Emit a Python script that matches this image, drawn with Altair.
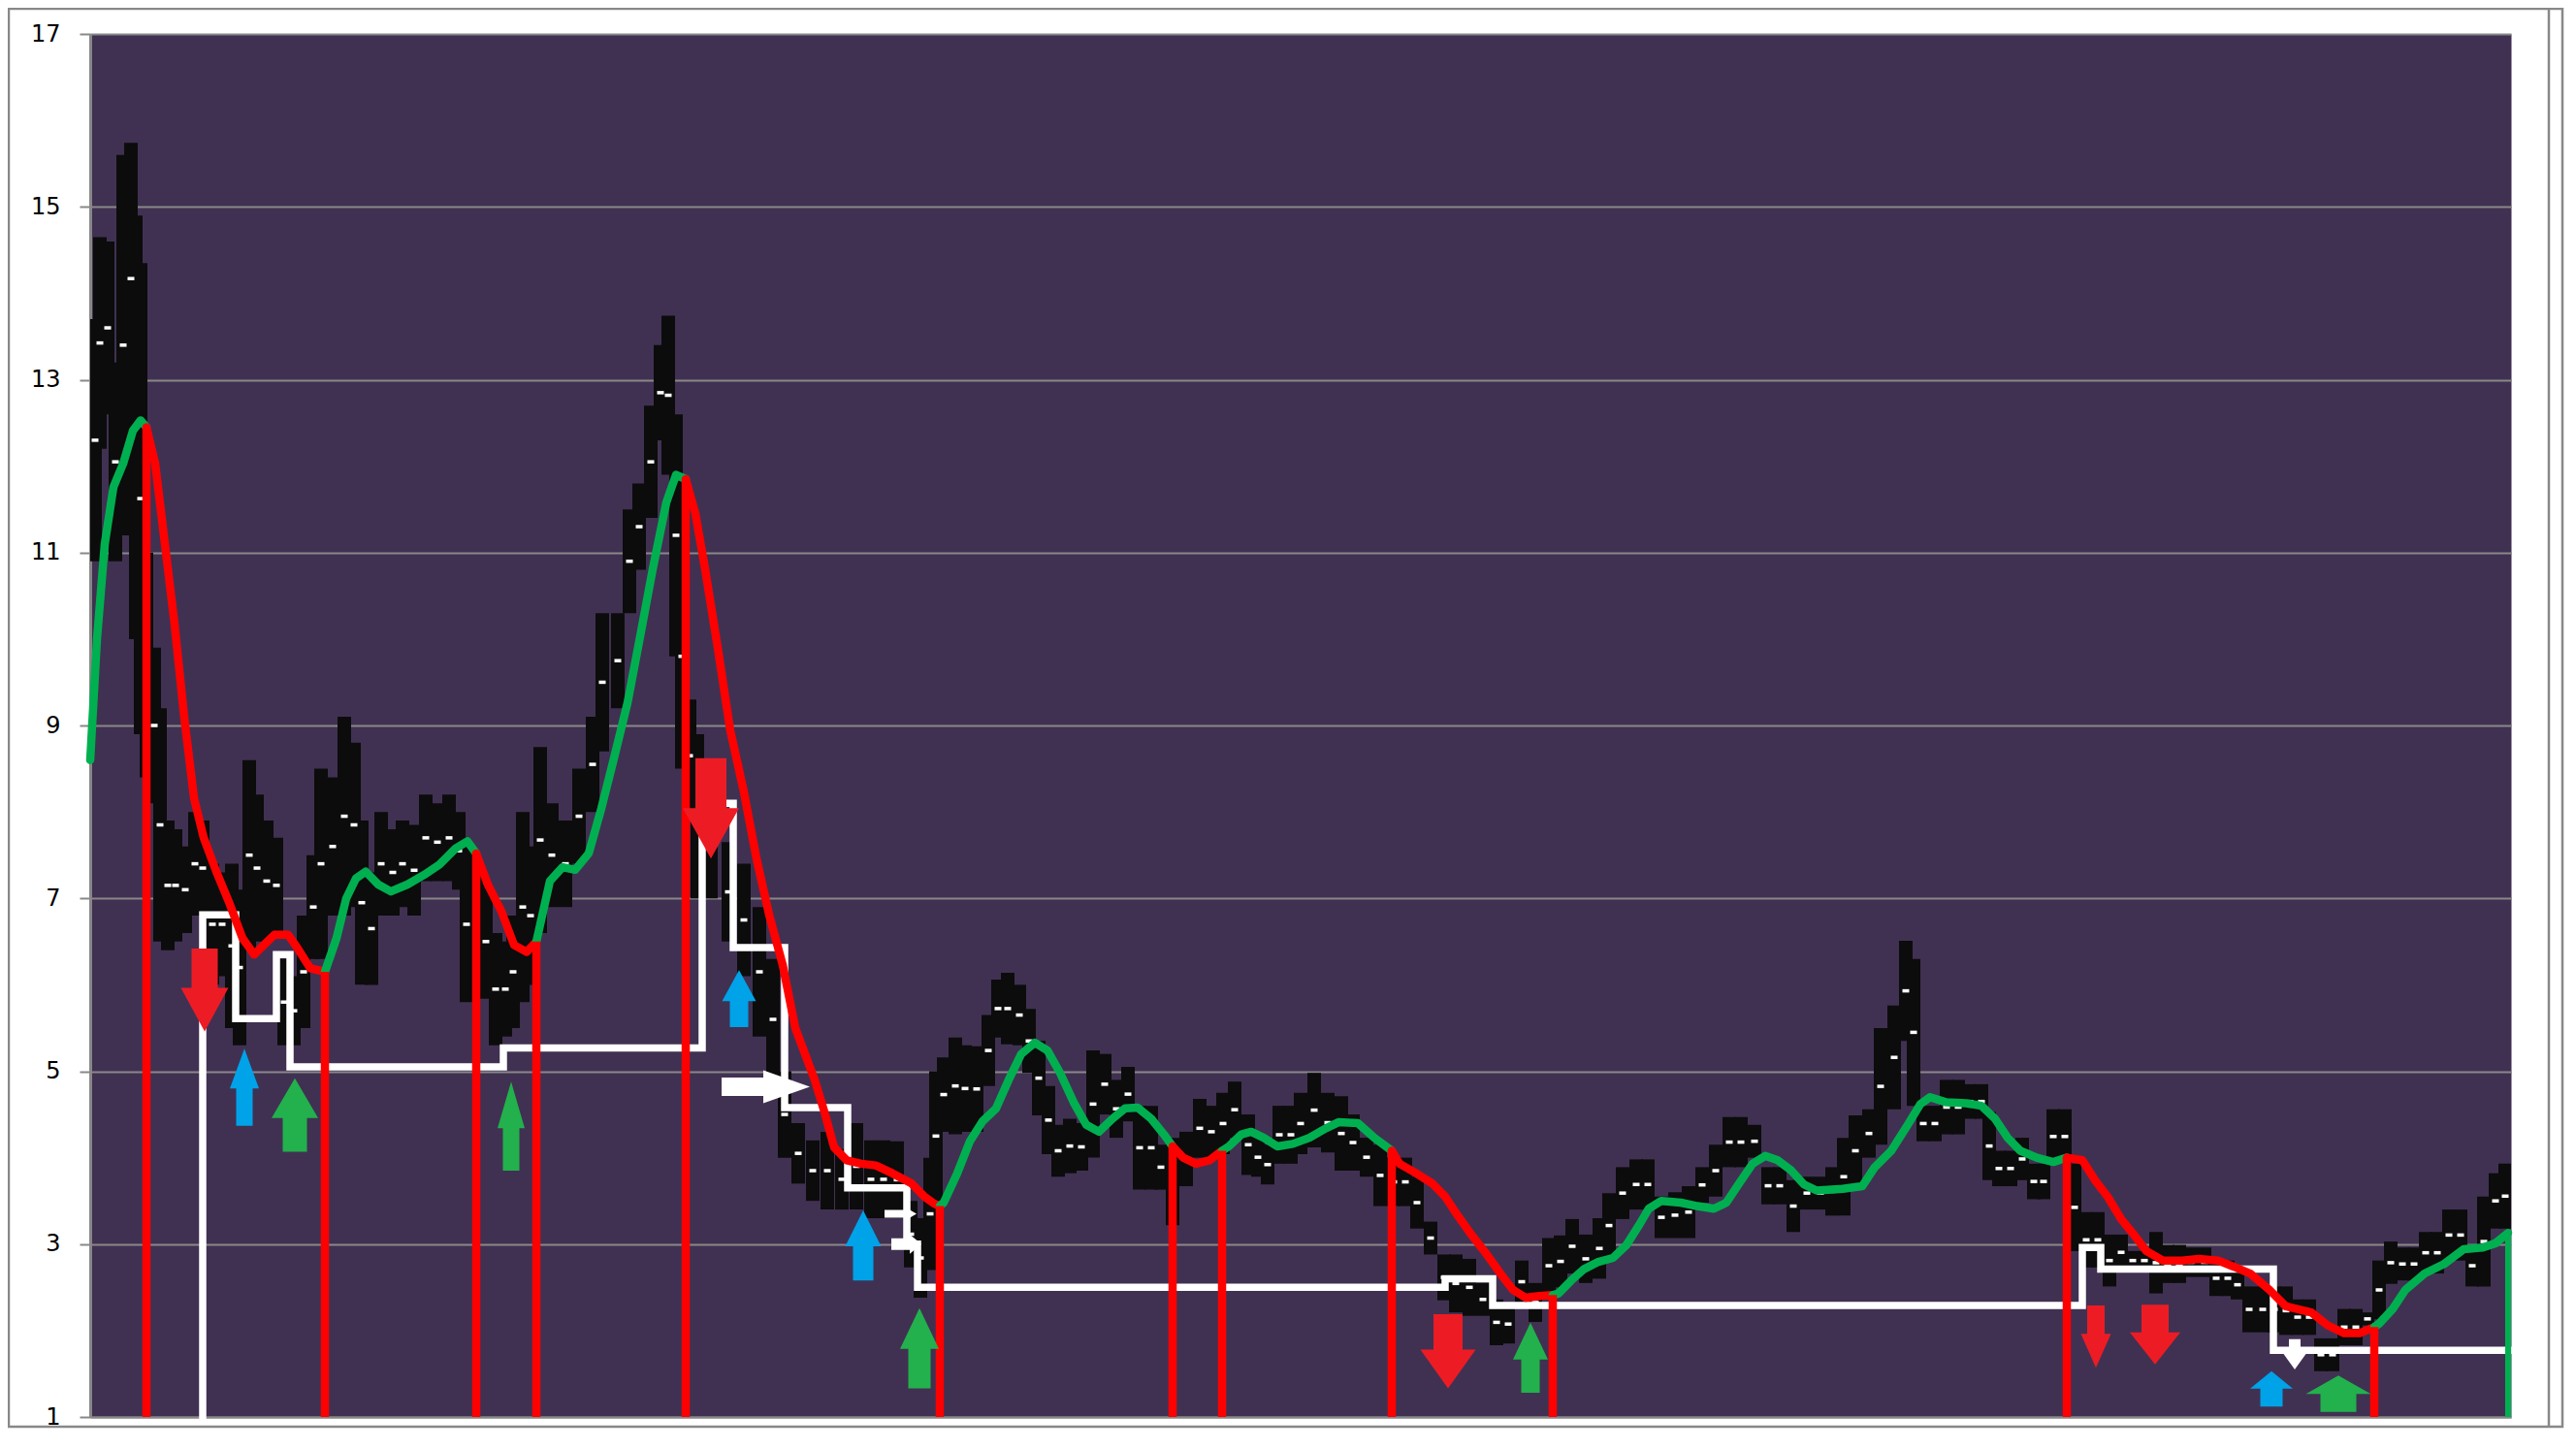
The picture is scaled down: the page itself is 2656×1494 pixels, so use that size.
import altair as alt
import pandas as pd

# ---------------- data ----------------
# price band: column position, high and low of each column
band_t = [5, 10, 18, 26, 34, 42, 47, 52, 58, 66,
          72, 80, 88, 98, 108, 116, 126, 136, 146, 154,
          164, 172, 182, 192, 200, 210, 220, 230, 238, 250,
          262, 272, 280, 290, 300, 312, 322, 334, 346, 358,
          370, 380, 388, 398, 408, 418, 428, 436, 446, 454,
          464, 476, 490, 504, 518, 528, 544, 556, 566, 578,
          588, 596, 604, 610, 618, 626, 640, 658, 674, 690,
          704, 716, 730, 745, 760, 775, 790, 805, 818, 832,
          846, 856, 866, 872, 880, 892, 902, 914, 926, 936,
          946, 958, 968, 978, 988, 998, 1010, 1022, 1034, 1046,
          1058, 1070, 1082, 1094, 1104, 1116, 1130, 1144, 1156, 1168,
          1180, 1194, 1204, 1214, 1226, 1238, 1248, 1262, 1276, 1290,
          1302, 1316, 1330, 1344, 1356, 1368, 1382, 1396, 1408, 1422,
          1436, 1450, 1462, 1476, 1490, 1504, 1516, 1528, 1542, 1556,
          1566, 1580, 1594, 1606, 1620, 1634, 1648, 1662, 1676, 1690,
          1702, 1716, 1730, 1742, 1756, 1770, 1784, 1796, 1808, 1820,
          1834, 1846, 1860, 1872, 1880, 1890, 1902, 1914, 1926, 1938,
          1950, 1958, 1968, 1980, 1992, 2004, 2014, 2024, 2036, 2046,
          2058, 2070, 2082, 2094, 2106, 2118, 2130, 2142, 2154, 2166,
          2180, 2192, 2204, 2214, 2226, 2240, 2252, 2264, 2276, 2288,
          2300, 2312, 2324, 2336, 2348, 2360, 2372, 2384, 2396, 2408,
          2420, 2432, 2444, 2456, 2468, 2480, 2490]
band_hi = [13.7, 14.65, 14.6, 13.2, 15.6, 15.74, 14.9, 14.35, 11.0, 9.9,
           9.2, 7.9, 7.8, 7.6, 8.0, 7.9, 7.4, 7.3, 7.4, 7.1,
           8.6, 8.2, 7.9, 7.7, 6.3, 6.1, 6.8, 7.5, 8.5, 8.4,
           9.1, 8.8, 7.9, 7.3, 8.0, 7.8, 7.9, 7.85, 8.2, 8.1,
           8.2, 8.0, 7.6, 7.4, 7.16, 6.6, 6.5, 6.8, 8.0, 7.6,
           8.75, 8.1, 7.9, 8.5, 9.1, 10.3, 10.3, 11.5, 11.8, 12.7,
           13.4, 13.74, 12.6, 11.1, 9.3, 8.9, 8.2, 7.65, 7.4, 6.9,
           6.3, 5.0, 4.4, 4.2, 4.3, 4.1, 4.4, 4.2, 4.2, 4.19,
           3.5, 3.3, 4.0, 5.0, 5.16, 5.39, 5.3, 5.29, 5.65, 6.06,
           6.14, 6.0, 5.72, 5.35, 4.83, 4.38, 4.45, 4.4, 5.24, 5.2,
           4.9, 5.05, 4.6, 4.6, 4.15, 4.23, 4.3, 4.68, 4.6, 4.75,
           4.88, 4.5, 4.23, 4.15, 4.6, 4.6, 4.75, 4.98, 4.75, 4.71,
           4.5, 4.23, 4.15, 4.0, 4.0, 3.78, 3.26, 2.88, 2.88, 2.83,
           2.55, 2.36, 2.3, 2.81, 2.55, 3.07, 3.1, 3.29, 3.11, 3.3,
           3.59, 3.89, 3.98, 3.98, 3.55, 3.6, 3.67, 3.89, 4.15, 4.47,
           4.47, 4.38, 3.89, 3.89, 3.74, 3.78, 3.78, 3.89, 4.23, 4.49,
           4.56, 5.5, 5.76, 6.51, 6.3, 4.6, 4.6, 4.9, 4.9, 4.85,
           4.85, 4.53, 4.08, 4.08, 4.23, 3.93, 3.93, 4.56, 4.56, 3.93,
           3.37, 3.37, 3.11, 3.11, 2.92, 2.92, 3.14, 2.99, 2.99, 2.96,
           2.96, 2.81, 2.81, 2.7, 2.51, 2.51, 2.51, 2.51, 2.36, 2.36,
           1.91, 1.91, 2.25, 2.25, 2.21, 2.81, 3.03, 2.96, 2.96, 3.14,
           3.14, 3.4, 3.4, 2.99, 3.55, 3.82, 3.93]
band_lo = [10.9, 12.2, 12.6, 10.9, 11.2, 12.6, 10.0, 8.9, 8.4, 8.1,
           6.5, 6.4, 6.5, 6.6, 6.8, 6.8, 6.0, 6.1, 5.5, 5.3,
           6.4, 6.5, 6.5, 6.6, 5.3, 5.3, 5.5, 6.3, 6.3, 6.8,
           6.8, 6.9, 6.0, 6.0, 6.8, 6.8, 6.9, 6.8, 7.2, 7.2,
           7.2, 7.1, 5.8, 5.9, 5.84, 5.3, 5.4, 5.5, 5.8, 6.0,
           6.6, 6.9, 6.9, 7.4, 8.0, 8.7, 9.2, 10.3, 10.8, 11.4,
           12.3, 11.9, 9.8, 8.5, 8.0, 7.0, 7.0, 6.5, 6.1, 5.4,
           4.9, 4.0, 3.7, 3.5, 3.4, 3.4, 3.4, 3.3, 3.3, 3.3,
           2.73, 2.38, 2.7, 3.5, 4.3, 4.27, 4.3, 4.3, 4.83, 5.39,
           5.31, 5.3, 4.98, 4.49, 4.04, 3.78, 3.82, 3.85, 4.0, 4.5,
           4.23, 4.42, 3.63, 3.63, 3.63, 3.22, 3.67, 4.0, 4.0, 4.04,
           4.23, 3.8, 3.78, 3.69, 3.93, 3.93, 4.04, 4.12, 4.06, 3.85,
           3.85, 3.78, 3.44, 3.44, 3.44, 3.18, 2.88, 2.35, 2.21, 2.17,
           2.17, 1.83, 1.85, 2.32, 2.1, 2.43, 2.5, 2.66, 2.55, 2.6,
           2.84, 3.29, 3.4, 3.4, 3.07, 3.07, 3.07, 3.48, 3.55, 3.89,
           3.89, 4.0, 3.46, 3.46, 3.14, 3.4, 3.4, 3.33, 3.33, 3.67,
           4.0, 4.15, 4.56, 5.35, 4.6, 4.19, 4.19, 4.27, 4.27, 4.45,
           4.45, 3.74, 3.67, 3.67, 3.74, 3.52, 3.52, 3.93, 3.93, 2.92,
           2.73, 2.73, 2.51, 2.7, 2.7, 2.7, 2.43, 2.55, 2.55, 2.62,
           2.62, 2.4, 2.4, 2.36, 1.98, 1.98, 1.98, 1.95, 1.95, 1.95,
           1.53, 1.53, 1.83, 1.83, 2.06, 2.13, 2.54, 2.58, 2.58, 2.66,
           2.66, 2.81, 2.81, 2.51, 2.51, 3.18, 3.18]

# smoothed trend line
trend_t = [0, 7, 15, 24, 34, 44, 52, 58,
           67, 77, 87, 97, 107, 117, 130, 144, 157, 169, 179, 190, 204, 214, 227, 242,
           254, 264, 274, 284, 297, 310, 327, 344, 360, 377, 389, 398,
           410, 424, 437, 450, 460,
           474, 487, 500, 514, 527, 540, 554, 567, 580, 594, 604, 614,
           624, 634, 647, 660, 674, 687, 700, 714, 727, 737, 747, 757, 767, 780, 795, 810, 827, 847, 860, 870, 876,
           880, 894, 907, 920, 934, 947, 960, 974, 987, 1000, 1014, 1027, 1040, 1054, 1067, 1080, 1094, 1107, 1116,
           1127, 1140, 1154, 1167,
           1174, 1187, 1197, 1210, 1224, 1240, 1257, 1274, 1287, 1307, 1324, 1342,
           1350, 1367, 1384, 1397, 1410, 1424, 1440, 1454, 1467, 1480, 1494, 1508,
           1514, 1527, 1540, 1554, 1570, 1584, 1597, 1607, 1620, 1640, 1657, 1674, 1687, 1700, 1714, 1727,
           1740, 1754, 1767, 1780, 1807, 1827, 1840, 1857, 1874, 1887, 1897, 1914, 1934, 1950, 1964, 1977,
           1990, 2007, 2024, 2038,
           2054, 2067, 2080, 2094, 2107, 2120, 2137, 2157, 2174, 2194, 2210, 2227, 2247, 2264, 2290, 2307,
           2324, 2340, 2355,
           2360, 2374, 2387, 2407, 2427, 2447, 2467, 2480, 2493]
trend_v = [8.6, 10.0, 11.1, 11.76, 12.03, 12.41, 12.53, 12.45,
           12.03, 11.1, 10.17, 9.09, 8.16, 7.7, 7.31, 6.93, 6.54, 6.35, 6.46, 6.58, 6.58, 6.42, 6.19, 6.15,
           6.54, 7.0, 7.23, 7.31, 7.16, 7.08, 7.16, 7.27, 7.39, 7.58, 7.66, 7.52,
           7.16, 6.85, 6.46, 6.38, 6.5,
           7.2, 7.36, 7.33, 7.52, 8.04, 8.62, 9.26, 10.03, 10.81, 11.58, 11.9, 11.85,
           11.45, 10.81, 9.9, 8.94, 8.23, 7.46, 6.81, 6.23, 5.5, 5.2, 4.9, 4.53, 4.12, 3.97, 3.93, 3.91, 3.82, 3.7, 3.55, 3.47, 3.44,
           3.48, 3.82, 4.19, 4.42, 4.57, 4.9, 5.2, 5.33, 5.24, 4.98, 4.64, 4.38, 4.3, 4.45, 4.57, 4.58, 4.45, 4.27, 4.13,
           4.0, 3.93, 3.97, 4.08,
           4.13, 4.27, 4.3, 4.23, 4.13, 4.16, 4.23, 4.34, 4.41, 4.4, 4.23, 4.08,
           3.93, 3.82, 3.7, 3.55, 3.33, 3.11, 2.88, 2.66, 2.47, 2.38, 2.4, 2.41,
           2.43, 2.58, 2.71, 2.79, 2.84, 2.99, 3.22, 3.41, 3.5, 3.48, 3.44, 3.41, 3.48, 3.7, 3.93, 4.02,
           3.97, 3.85, 3.69, 3.62, 3.64, 3.67, 3.89, 4.08, 4.38, 4.62, 4.7, 4.64, 4.63, 4.6, 4.45, 4.23,
           4.08, 4.0, 3.95, 4.0,
           3.97, 3.74, 3.55, 3.29, 3.11, 2.92, 2.81, 2.81, 2.83, 2.81, 2.74, 2.66, 2.47, 2.28, 2.21, 2.06,
           1.97, 1.97, 2.04,
           2.08, 2.25, 2.47, 2.66, 2.77, 2.94, 2.96, 3.01, 3.13]

# turning points of the trend (red signal lines); trend alternates up / down
signal_t = [58, 242, 398, 460, 614, 876, 1116, 1167, 1342, 1508, 2038, 2355]
end_t = 2493

# white stop line (step-after)
stop_t = [116, 116, 150, 192, 206, 426, 631, 663, 716, 781, 842, 853,
          1397, 1446, 2054, 2073, 2251, 2493]
stop_v = [1.0, 6.81, 5.61, 6.35, 5.05, 5.27, 8.1, 6.43, 4.58, 3.65, 3.0, 2.5,
          2.6, 2.29, 2.96, 2.71, 1.77, 1.77]

# vertical arrows: position, tail value, tip value, kind
varrow_t = [118, 159, 211, 434, 640, 669, 797, 855, 1400, 1485, 2068, 2129, 2249, 2318, 2273]
varrow_tail = [6.42, 4.37, 4.07, 3.85, 8.62, 5.51, 2.58, 1.33, 2.19, 1.28, 2.29, 2.3, 1.12, 1.06, 1.9]
varrow_tip = [5.46, 5.26, 4.92, 4.88, 7.46, 6.17, 3.39, 2.26, 1.33, 2.09, 1.57, 1.61, 1.53, 1.48, 1.55]
varrow_kind = ["sell", "stop", "buy", "buy", "sell", "stop", "stop", "buy", "sell", "buy",
               "sell", "sell", "stop", "buy", "move"]
# horizontal (right-pointing) arrows: level, tail position, tip position
harrow_v = [4.82, 3.35, 3.0]
harrow_tail = [651, 819, 826]
harrow_tip = [742, 852, 857]

# ---------------- styles ----------------
X_MAX = 2496
Y_MIN, Y_MAX = 1, 17
W, H = 2496, 1426
PPU_Y = H / (Y_MAX - Y_MIN)
PPU_X = W / X_MAX
PURPLE = "#403152"
GRID = "#888888"
kind_color = {"sell": "#ED1C24", "stop": "#00A2E8", "buy": "#22B14C", "move": "#FFFFFF"}
# arrow shape styles in px: (head width, shaft width, head length)
varrow_style = [(49, 27, 45), (30, 17, 41), (48, 25, 41), (28, 17, 48), (58, 32, 52),
                (35, 19, 32), (37, 21, 37), (40, 23, 42), (57, 30, 40), (36, 19, 38),
                (31, 18, 35), (52, 28, 33), (44, 23, 18), (67, 37, 19), (23, 12, 16)]
harrow_style = [(34, 19, 48), (14, 8, 12), (20, 12, 12)]


def arrow_path(length, width, shaft, head, direction):
    w = width / length
    sw = shaft / length
    hb = -1 + 2 * head / length
    pts = [(0, -1), (w, hb), (sw, hb), (sw, 1), (-sw, 1), (-sw, hb), (-w, hb)]
    if direction == "down":
        pts = [(x, -y) for x, y in pts]
    elif direction == "right":
        pts = [(-y, x) for x, y in pts]
    return "M" + "L".join(f"{x:.4f},{y:.4f}" for x, y in pts) + "Z"


# ---------------- tables ----------------
band_df = pd.DataFrame({"t": band_t, "hi": band_hi, "lo": band_lo})

rows = []
bounds = [0] + signal_t + [10**6]
for k in range(len(bounds) - 1):
    for i, (t, v) in enumerate(zip(trend_t, trend_v)):
        if bounds[k] <= t <= bounds[k + 1]:
            rows.append({"seg": k, "t": t, "v": v, "i": i,
                         "dir": "up" if k % 2 == 0 else "down"})
trend_df = pd.DataFrame(rows)

tv = dict(zip(trend_t, trend_v))
signal_df = pd.DataFrame({"t": signal_t, "top": [tv[t] for t in signal_t],
                          "base": [1.0] * len(signal_t)})
end_df = pd.DataFrame({"t": [end_t], "top": [tv[end_t]], "base": [1.0]})

stop_df = pd.DataFrame({"t": stop_t, "v": stop_v, "i": range(len(stop_t))})

arows = []
for t, a, b, kind, (wd, sh, hd) in zip(varrow_t, varrow_tail, varrow_tip, varrow_kind, varrow_style):
    L = abs(b - a) * PPU_Y
    arows.append({"x": t, "y": (a + b) / 2, "col": kind_color[kind],
                  "path": arrow_path(L, wd, sh, hd, "up" if b > a else "down"), "size": L * L})
for v, a, b, (wd, sh, hd) in zip(harrow_v, harrow_tail, harrow_tip, harrow_style):
    L = abs(b - a) * PPU_X
    arows.append({"x": (a + b) / 2, "y": v, "col": kind_color["move"],
                  "path": arrow_path(L, wd, sh, hd, "right"), "size": L * L})
arrow_df = pd.DataFrame(arows)

# ---------------- chart ----------------
xs = alt.Scale(domain=[0, X_MAX], nice=False, zero=False)
ys = alt.Scale(domain=[Y_MIN, Y_MAX], nice=False, zero=False)
yaxis = alt.Axis(values=list(range(1, 18, 2)), title=None, labelFont="DejaVu Sans",
                 labelFontSize=24, labelColor="#000000", labelPadding=20, tickSize=11,
                 tickWidth=2, tickColor=GRID, domainColor=GRID, domainWidth=3, grid=True,
                 gridColor=GRID, gridWidth=2, labelOverlap=False, labelFlush=False)
xaxis = alt.Axis(title=None, labels=False, ticks=False, grid=False, domainColor=GRID, domainWidth=2)

X = lambda f: alt.X(f, type="quantitative", scale=xs, axis=xaxis)
Y = lambda f: alt.Y(f, type="quantitative", scale=ys, axis=yaxis)

band = alt.Chart(band_df).mark_rule(color="#0c0c0c", strokeWidth=14, strokeCap="butt", clip=True).encode(
    x=X("t"), y=Y("hi"), y2="lo")

dots = alt.Chart(band_df).transform_calculate(mid="(datum.hi + datum.lo) / 2").mark_point(
    shape="M-1,-0.5L1,-0.5L1,0.5L-1,0.5Z", size=49, filled=True, color="#ffffff", opacity=1,
    strokeWidth=0, clip=True).encode(x=X("t"), y=Y("mid"))

stop = alt.Chart(stop_df).mark_line(color="#ffffff", strokeWidth=7.5, interpolate="step-after",
                                    strokeCap="square").encode(
    x=X("t"), y=Y("v"), order="i:Q")

trend = alt.Chart(trend_df).mark_line(strokeWidth=8.5, strokeCap="round", strokeJoin="round").encode(
    x=X("t"), y=Y("v"), detail="seg:N", order="i:Q",
    color=alt.Color("dir:N", scale=alt.Scale(domain=["up", "down"], range=["#00B050", "#FF0000"]),
                    legend=None))

signals = alt.Chart(signal_df).mark_rule(color="#FF0000", strokeWidth=8.5, strokeCap="butt").encode(
    x=X("t"), y=Y("top"), y2="base")

endline = alt.Chart(end_df).mark_rule(color="#00B050", strokeWidth=6, strokeCap="butt").encode(
    x=X("t"), y=Y("top"), y2="base")

arrows = alt.Chart(arrow_df).mark_point(filled=True, opacity=1, strokeWidth=0).encode(
    x=X("x"), y=Y("y"),
    shape=alt.Shape("path:N", scale=None),
    size=alt.Size("size:Q", scale=None),
    color=alt.Color("col:N", scale=None))

frame = alt.Chart(pd.DataFrame({"k": [0]})).mark_rect(filled=False, stroke=GRID, strokeWidth=2.5).encode(
    x=alt.value(-84), x2=alt.value(2549), y=alt.value(-26), y2=alt.value(1436))
frame_inner = alt.Chart(pd.DataFrame({"k": [0]})).mark_rule(color=GRID, strokeWidth=2.5).encode(
    x=alt.value(2535), y=alt.value(-26), y2=alt.value(1436))

chart = alt.layer(band, dots, stop, trend, signals, endline, arrows, frame, frame_inner).properties(
    width=W, height=H,
    autosize=alt.AutoSizeParams(type="none"),
    padding={"left": 85, "top": 27, "right": 56, "bottom": 12},
    background="#ffffff",
).configure_view(fill=PURPLE, stroke="transparent")

chart.save("out.html", embed_options={"renderer": "svg", "actions": False})
